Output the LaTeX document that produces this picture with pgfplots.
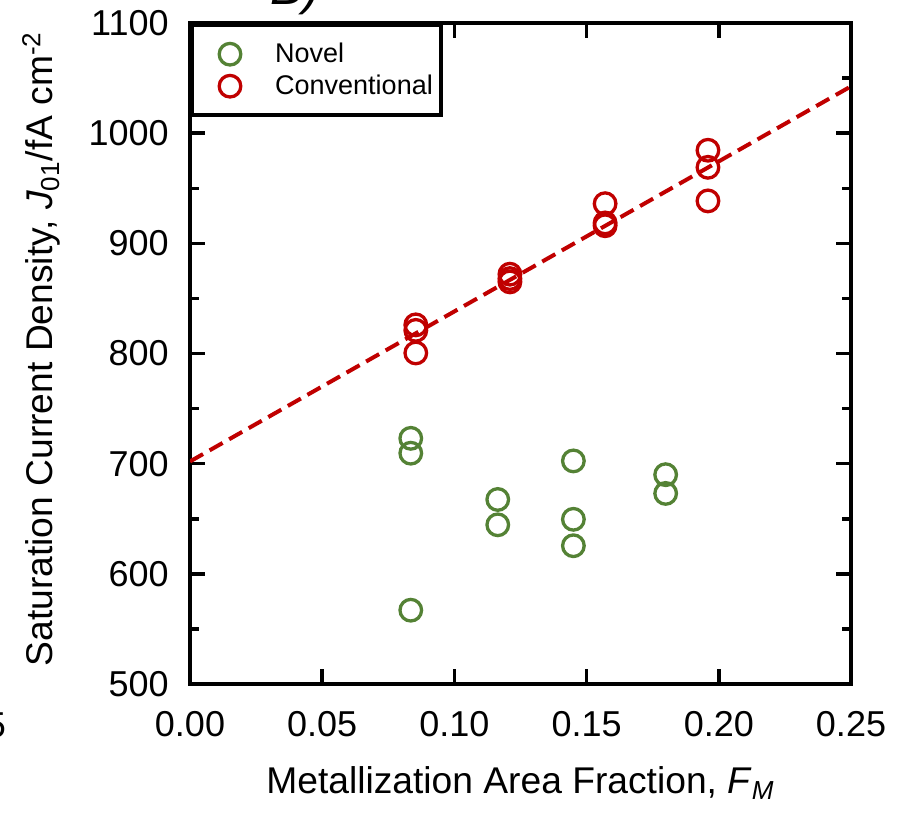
\documentclass[border=0pt]{standalone}
\usepackage{fontspec}
\setmainfont{Liberation Sans}
\usepackage{pgfplots}
\pgfplotsset{compat=1.18}
\definecolor{ngreen}{RGB}{84,130,53}
\definecolor{cred}{RGB}{192,0,0}
\begin{document}
\begin{tikzpicture}
\useasboundingbox (0,0) rectangle (451.5pt,407pt);
\clip (0,0) rectangle (451.5pt,407pt);
\begin{axis}[
  scale only axis, width=330.5pt, height=330.5pt,
  at={(95pt,65pt)}, anchor=south west,
  xmin=0, xmax=0.25, ymin=500, ymax=1100,
  xtick={0,0.05,0.1,0.15,0.2,0.25},
  ytick={500,600,700,800,900,1000,1100},
  minor ytick={550,650,750,850,950,1050},
  tick align=inside,
  major tick length=7.5pt, minor tick length=4.5pt,
  tick style={black, line width=1.75pt},
  axis line style={line width=2pt},
  xticklabel style={font=\fontsize{18}{21}\selectfont, inner sep=0pt, anchor=north, yshift=-13.5pt,
    /pgf/number format/fixed, /pgf/number format/fixed zerofill, /pgf/number format/precision=2,
    /pgf/number format/assume math mode=true},
  yticklabel style={font=\fontsize{18}{21}\selectfont, inner sep=0pt, anchor=east, xshift=-10.5pt,
    /pgf/number format/1000 sep={}, /pgf/number format/assume math mode=true},
  xlabel={Metallization Area Fraction, \textit{F}\textsubscript{\textit{M}}},
  ylabel={Saturation Current Density, \textit{J}\textsubscript{01}/fA cm\textsuperscript{-2}},
  xlabel style={font=\fontsize{18.6}{21}\selectfont, at={(axis description cs:0.5,-0.1649)}, anchor=base},
  ylabel style={font=\fontsize{18.6}{21}\selectfont, at={(axis description cs:-0.2073,0.507)}, anchor=base},
  legend image code/.code={\path[draw=none,fill=none] (0pt,-8pt) rectangle (30pt,8pt); \draw[#1,overlay] plot coordinates {(15pt,0pt)};},
  legend cell align=left,
  legend style={at={(axis description cs:0,1)}, anchor=north west, draw=black, line width=2pt, fill=white,
    inner xsep=4pt, inner ysep=6.6pt, font=\fontsize{13.5}{15}\selectfont, row sep=0pt,
    nodes={inner sep=0pt},
    /tikz/every odd column/.append style={column sep=7.6pt}},
]
\addplot[only marks, mark=o, mark size=5.4pt, color=ngreen, mark options={line width=1.65pt}] coordinates {
  (0.0835,723) (0.0835,709.5) (0.0835,567)
  (0.1164,667.5) (0.1164,644.5)
  (0.1450,702.5) (0.1450,649.5) (0.1450,625.5)
  (0.1799,690) (0.1799,673)
};
\addlegendentry{Novel}
\addplot[only marks, mark=o, mark size=5.4pt, color=cred, mark options={line width=1.65pt}] coordinates {
  (0.0854,826) (0.0854,821) (0.0854,800.5)
  (0.1210,872) (0.1210,868) (0.1210,865)
  (0.1570,936) (0.1570,918.5) (0.1570,916)
  (0.1959,984.5) (0.1959,969) (0.1959,938.5)
};
\addlegendentry{Conventional}
\addplot[forget plot, cred, line width=2pt, dash pattern=on 7.5pt off 3.75pt] coordinates {(0,702) (0.25,1042.5)};
\end{axis}
\node[anchor=base west, inner sep=0pt, font=\fontsize{25}{30}\selectfont\itshape] at (135pt,404.5pt) {B)};
\node[anchor=north east, inner sep=0pt, font=\fontsize{18}{21}\selectfont] at (3.2pt,51.2pt) {0.25};
\end{tikzpicture}
\end{document}
